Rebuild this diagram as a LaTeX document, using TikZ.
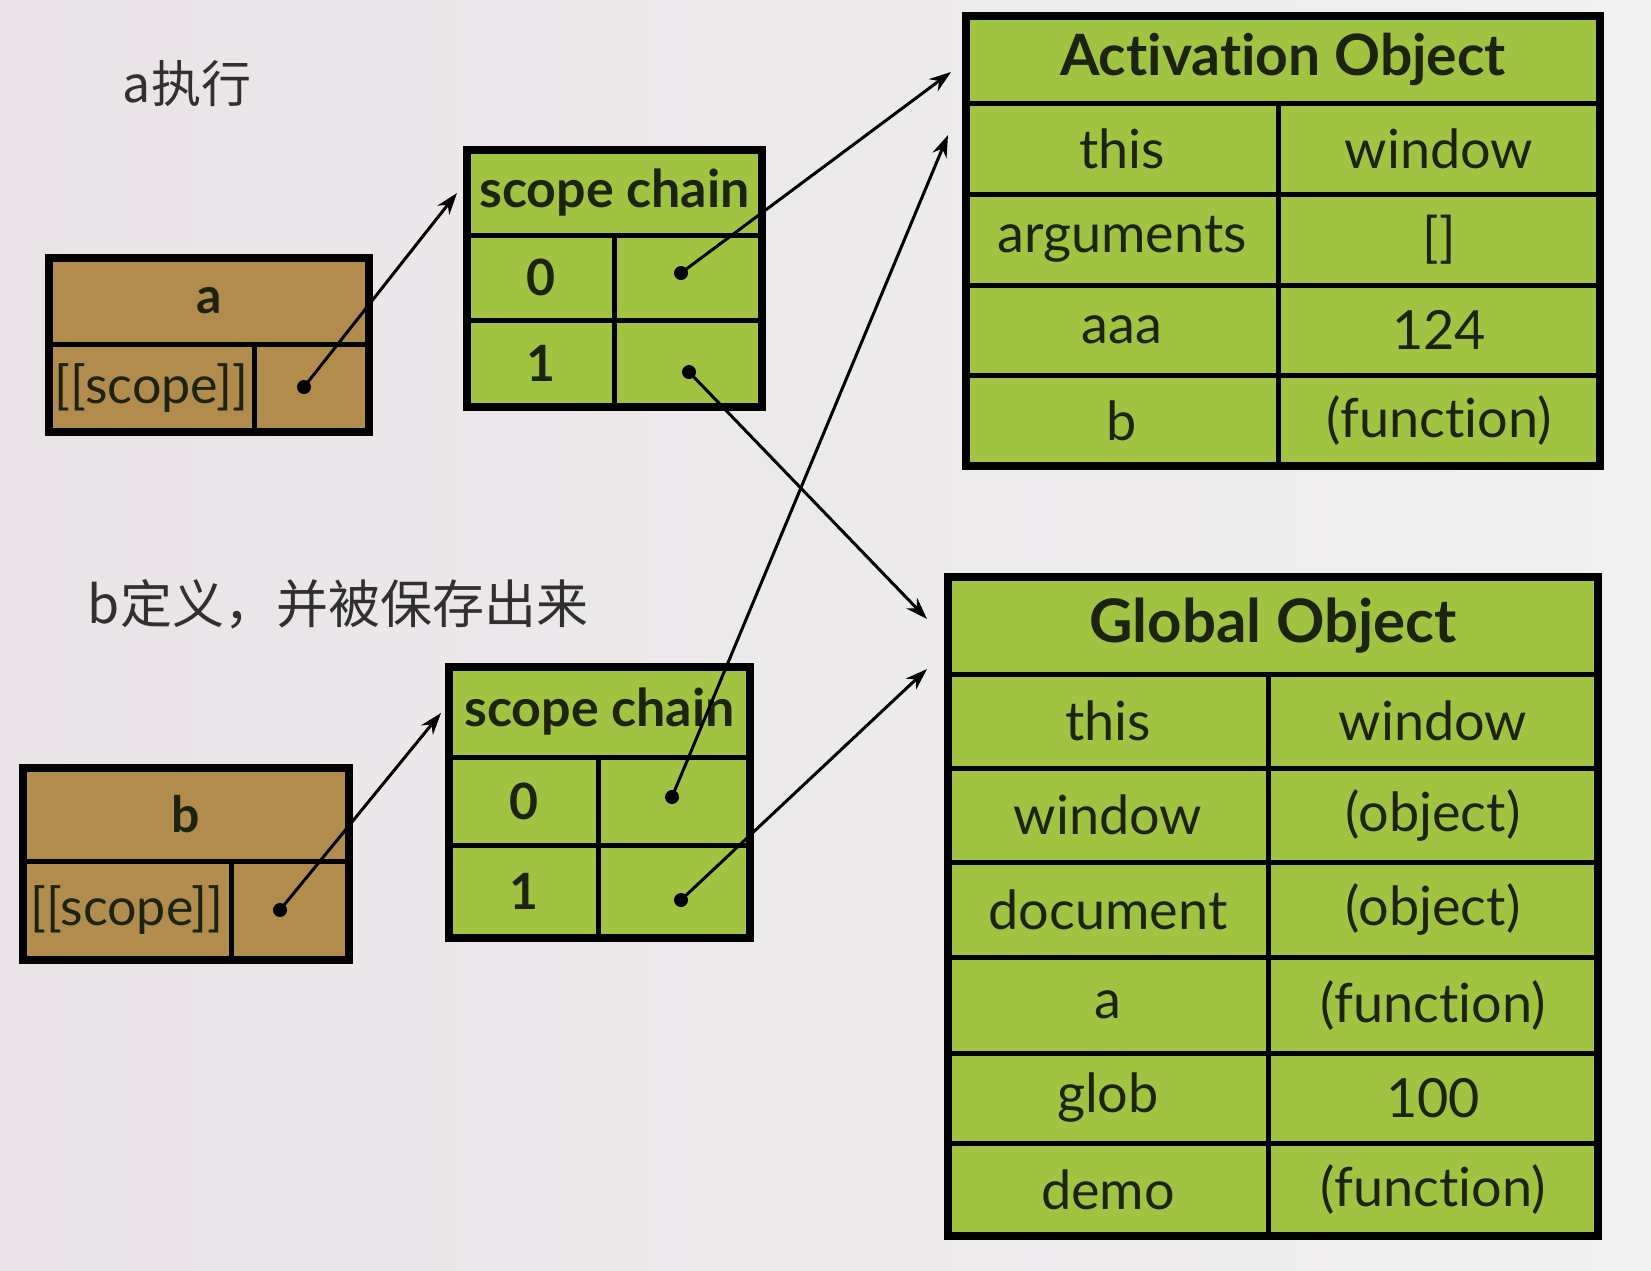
\documentclass[tikz,border=0pt]{standalone}
\usepackage{fontspec}
\setmainfont{Lato}[Ligatures=NoCommon]
\newfontfamily\cjk{Noto Sans CJK SC}
\usetikzlibrary{arrows.meta}
\definecolor{cg}{HTML}{A0C442}
\definecolor{cb}{HTML}{B28C4C}
\definecolor{ink}{HTML}{1C2410}
\definecolor{bgl}{HTML}{E9E3E7}
\definecolor{bgr}{HTML}{F0F0F0}
\definecolor{cjkink}{HTML}{303030}
\begin{document}
\begin{tikzpicture}[x=1pt,y=-1pt,
  cell/.style={draw=black, line width=5pt, inner sep=0pt, outer sep=0pt, text=ink,
    font=\fontsize{54}{58}\selectfont},
  gcell/.style={cell, fill=cg},
  bcell/.style={cell, fill=cb},
  hd/.style={font=\bfseries\fontsize{57}{60}\selectfont},
  hdsc/.style={font=\bfseries\fontsize{52}{56}\selectfont},
  hdk/.style={font=\bfseries\fontsize{50}{54}\selectfont},
  scp/.style={font=\fontsize{52}{56}\selectfont},
  frame/.style={draw=black, line width=8pt, line join=miter},
  dot/.style={circle, fill=black, inner sep=0pt, minimum size=14pt},
  arr/.style={line width=3pt, -{Stealth[length=22pt,width=15pt]}},
  cjktext/.style={font=\cjk\fontsize{52}{56}\selectfont, text=cjkink}
]
\useasboundingbox (0,0) rectangle (1651,1270);
\shade[left color=bgl, right color=bgr] (0,0) rectangle (1651,1270);

% labels
\node[cjktext, font=\cjk\fontsize{50}{54}\selectfont] (la) at (187,84) {a执行};
\node[cjktext] (lb) at (338,604) {b定义，并被保存出来};

% box a
\node[bcell, hdk, minimum width=320pt, minimum height=86pt] (a-h) at (209,301) {a};
\node[bcell, scp, minimum width=205pt, minimum height=88pt] (a-s) at (151.5,388) {[[scope]]};
\node[bcell, minimum width=115pt, minimum height=88pt] (a-p) at (311.5,388) {};
\draw[frame] (a-h.north west) rectangle (a-p.south east);

% scope chain a
\node[gcell, hdsc, minimum width=295pt, minimum height=85pt] (sa-h) at (614.5,192.5) {scope chain};
\node[gcell, hdk, minimum width=147pt, minimum height=85pt] (sa-0) at (540.5,277.5) {0};
\node[gcell, minimum width=148pt, minimum height=85pt] (sa-0v) at (688,277.5) {};
\node[gcell, hdk, minimum width=147pt, minimum height=87pt] (sa-1) at (540.5,363.5) {1};
\node[gcell, minimum width=148pt, minimum height=87pt] (sa-1v) at (688,363.5) {};
\draw[frame] (sa-h.north west) rectangle (sa-1v.south east);

% box b
\node[bcell, hdk, minimum width=326pt, minimum height=93pt] (b-h) at (186,814.5) {b};
\node[bcell, scp, minimum width=208pt, minimum height=99pt] (b-s) at (127,910.5) {[[scope]]};
\node[bcell, minimum width=118pt, minimum height=99pt] (b-p) at (290,910.5) {};
\draw[frame] (b-h.north west) rectangle (b-p.south east);

% scope chain b
\node[gcell, hdsc, minimum width=301pt, minimum height=90pt] (sb-h) at (599.5,712) {scope chain};
\node[gcell, hdk, minimum width=149pt, minimum height=88pt] (sb-0) at (523.5,801) {0};
\node[gcell, minimum width=152pt, minimum height=88pt] (sb-0v) at (674,801) {};
\node[gcell, hdk, minimum width=149pt, minimum height=93pt] (sb-1) at (523.5,891.5) {1};
\node[gcell, minimum width=152pt, minimum height=93pt] (sb-1v) at (674,891.5) {};
\draw[frame] (sb-h.north west) rectangle (sb-1v.south east);

% Activation Object
\node[gcell, hd, minimum width=634pt, minimum height=87pt] (ao-h) at (1283,59.5) {Activation Object};
\node[gcell, minimum width=312pt, minimum height=91pt] (ao-1k) at (1122,148.5) {this};
\node[gcell, minimum width=322pt, minimum height=91pt] (ao-1v) at (1439,148.5) {window};
\node[gcell, minimum width=312pt, minimum height=91pt] (ao-2k) at (1122,239.5) {arguments};
\node[gcell, minimum width=322pt, minimum height=91pt] (ao-2v) at (1439,239.5) {[]};
\node[gcell, minimum width=312pt, minimum height=90pt] (ao-3k) at (1122,330) {aaa};
\node[gcell, minimum width=322pt, minimum height=90pt] (ao-3v) at (1439,330) {124};
\node[gcell, minimum width=312pt, minimum height=91pt] (ao-4k) at (1122,420.5) {b};
\node[gcell, minimum width=322pt, minimum height=91pt] (ao-4v) at (1439,420.5) {(function)};
\draw[frame] (ao-h.north west) rectangle (ao-4v.south east);

% Global Object
\node[gcell, hd, font=\bfseries\fontsize{60}{64}\selectfont, minimum width=650pt, minimum height=97pt] (go-h) at (1273,625.5) {Global Object};
\node[gcell, minimum width=320pt, minimum height=94pt] (go-1k) at (1108,721) {this};
\node[gcell, minimum width=330pt, minimum height=94pt] (go-1v) at (1433,721) {window};
\node[gcell, minimum width=320pt, minimum height=94pt] (go-2k) at (1108,815) {window};
\node[gcell, minimum width=330pt, minimum height=94pt] (go-2v) at (1433,815) {(object)};
\node[gcell, minimum width=320pt, minimum height=95pt] (go-3k) at (1108,909.5) {document};
\node[gcell, minimum width=330pt, minimum height=95pt] (go-3v) at (1433,909.5) {(object)};
\node[gcell, minimum width=320pt, minimum height=96pt] (go-4k) at (1108,1005) {a};
\node[gcell, minimum width=330pt, minimum height=96pt] (go-4v) at (1433,1005) {(function)};
\node[gcell, minimum width=320pt, minimum height=90pt] (go-5k) at (1108,1098) {glob};
\node[gcell, minimum width=330pt, minimum height=90pt] (go-5v) at (1433,1098) {100};
\node[gcell, minimum width=320pt, minimum height=93pt] (go-6k) at (1108,1189.5) {demo};
\node[gcell, minimum width=330pt, minimum height=93pt] (go-6v) at (1433,1189.5) {(function)};
\draw[frame] (go-h.north west) rectangle (go-6v.south east);

% pointer dots
\node[dot] (da) at (304,387) {};
\node[dot] (dsa0) at (681,273) {};
\node[dot] (dsa1) at (689,372) {};
\node[dot] (db) at (280,910) {};
\node[dot] (dsb0) at (672,797) {};
\node[dot] (dsb1) at (681,900) {};

% arrow ends
\coordinate (ta) at (457,193);
\coordinate (tsa0) at (951,72);
\coordinate (tsa1) at (927,619);
\coordinate (tb) at (441,713);
\coordinate (tsb0) at (948,135);
\coordinate (tsb1) at (927,669);

\draw[arr] (da.center) -- (ta);
\draw[arr] (dsa0.center) -- (tsa0);
\draw[arr] (dsa1.center) -- (tsa1);
\draw[arr] (db.center) -- (tb);
\draw[arr] (dsb0.center) -- (tsb0);
\draw[arr] (dsb1.center) -- (tsb1);
\end{tikzpicture}
\end{document}
